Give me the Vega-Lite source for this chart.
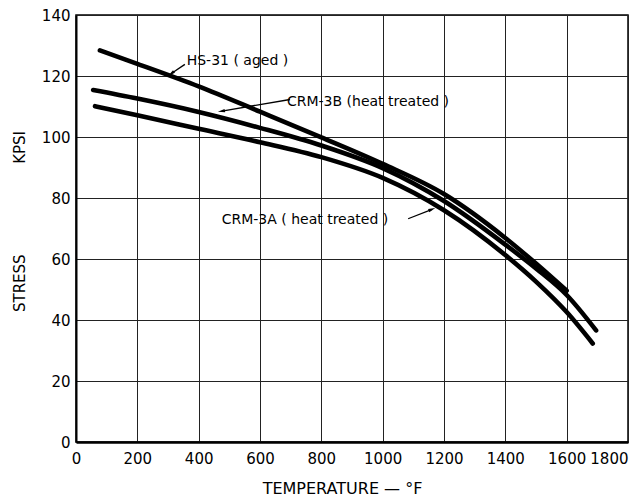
{
  "$schema": "https://vega.github.io/schema/vega-lite/v6.json",
  "width": 552,
  "height": 427,
  "autosize": {"type": "none"},
  "padding": {"left": 76, "top": 15, "right": 6, "bottom": 56},
  "background": "white",
  "config": {
    "font": "DejaVu Sans",
    "view": {"stroke": "black", "strokeWidth": 1.5}
  },
  "datasets": {
    "curves": [
      {"series": "HS-31", "temp": 78, "stress": 128.4},
      {"series": "HS-31", "temp": 200, "stress": 124},
      {"series": "HS-31", "temp": 400, "stress": 116.6},
      {"series": "HS-31", "temp": 600, "stress": 108.3},
      {"series": "HS-31", "temp": 800, "stress": 99.9},
      {"series": "HS-31", "temp": 1000, "stress": 91.2},
      {"series": "HS-31", "temp": 1200, "stress": 81.3},
      {"series": "HS-31", "temp": 1400, "stress": 66.9},
      {"series": "HS-31", "temp": 1500, "stress": 58.5},
      {"series": "HS-31", "temp": 1600, "stress": 49.6},
      {"series": "CRM-3B", "temp": 56, "stress": 115.4},
      {"series": "CRM-3B", "temp": 200, "stress": 112.6},
      {"series": "CRM-3B", "temp": 400, "stress": 108.2},
      {"series": "CRM-3B", "temp": 600, "stress": 103},
      {"series": "CRM-3B", "temp": 800, "stress": 97.2},
      {"series": "CRM-3B", "temp": 1000, "stress": 89.8},
      {"series": "CRM-3B", "temp": 1200, "stress": 79},
      {"series": "CRM-3B", "temp": 1400, "stress": 64.7},
      {"series": "CRM-3B", "temp": 1500, "stress": 56.9},
      {"series": "CRM-3B", "temp": 1600, "stress": 48.2},
      {"series": "CRM-3B", "temp": 1696, "stress": 36.6},
      {"series": "CRM-3A", "temp": 62, "stress": 110.1},
      {"series": "CRM-3A", "temp": 200, "stress": 107.1},
      {"series": "CRM-3A", "temp": 400, "stress": 102.7},
      {"series": "CRM-3A", "temp": 600, "stress": 98.3},
      {"series": "CRM-3A", "temp": 800, "stress": 93.4},
      {"series": "CRM-3A", "temp": 1000, "stress": 86.6},
      {"series": "CRM-3A", "temp": 1200, "stress": 76},
      {"series": "CRM-3A", "temp": 1400, "stress": 61.3},
      {"series": "CRM-3A", "temp": 1500, "stress": 52.6},
      {"series": "CRM-3A", "temp": 1600, "stress": 42.6},
      {"series": "CRM-3A", "temp": 1685, "stress": 32.3}
    ],
    "labels": [
      {"label": "HS-31 ( aged )", "temp": 361, "stress": 124.8},
      {"label": "CRM-3B (heat treated )", "temp": 688, "stress": 111.5},
      {"label": "CRM-3A ( heat treated )", "temp": 475, "stress": 72.7}
    ],
    "arrows": [
      {"name": "HS-31", "temp": 355, "stress": 123.8, "temp2": 312, "stress2": 120.9},
      {"name": "CRM-3B", "temp": 698, "stress": 112.3, "temp2": 476, "stress2": 108.5},
      {"name": "CRM-3A", "temp": 1083, "stress": 73.2, "temp2": 1159, "stress2": 76.2}
    ]
  },
  "layer": [
    {
      "data": {"name": "curves"},
      "mark": {"type": "line", "color": "black", "strokeWidth": 4.6, "interpolate": "monotone", "strokeCap": "round"},
      "encoding": {
        "x": {
          "field": "temp", "type": "quantitative",
          "scale": {"domain": [0, 1800], "nice": false, "zero": false},
          "axis": {
            "title": "TEMPERATURE — °F",
            "titleFontSize": 16, "titleFontWeight": "normal", "titleColor": "black", "titlePadding": 14,
            "titleX": 266,
            "values": [0, 200, 400, 600, 800, 1000, 1200, 1400, 1600, 1800],
            "format": "d",
            "labelFontSize": 15, "labelColor": "black", "labelPadding": 9,
            "labelAlign": {"expr": "datum.value == 1800 ? 'right' : 'center'"},
            "tickSize": 0, "ticks": false,
            "grid": true, "gridColor": "#222", "gridWidth": 1,
            "domainColor": "black", "domainWidth": 2.5
          }
        },
        "y": {
          "field": "stress", "type": "quantitative",
          "scale": {"domain": [0, 140], "nice": false, "zero": false},
          "axis": {
            "title": "STRESS\u00a0\u00a0\u00a0\u00a0\u00a0\u00a0\u00a0\u00a0\u00a0\u00a0\u00a0\u00a0\u00a0\u00a0\u00a0\u00a0\u00a0\u00a0\u00a0KPSI",
            "titleFontSize": 15, "titleFontWeight": "normal", "titleColor": "black", "titlePadding": 14,
            "titleY": 206,
            "values": [0, 20, 40, 60, 80, 100, 120, 140],
            "labelFontSize": 15, "labelColor": "black", "labelPadding": 6,
            "tickSize": 0, "ticks": false,
            "grid": true, "gridColor": "#222", "gridWidth": 1,
            "domainColor": "black", "domainWidth": 2
          }
        },
        "detail": {"field": "series", "type": "nominal"}
      }
    },
    {
      "data": {"name": "labels"},
      "mark": {"type": "text", "align": "left", "baseline": "middle", "fontSize": 14, "color": "black"},
      "encoding": {
        "x": {"field": "temp", "type": "quantitative"},
        "y": {"field": "stress", "type": "quantitative"},
        "text": {"field": "label", "type": "nominal"}
      }
    },
    {
      "data": {"name": "arrows"},
      "mark": {"type": "rule", "color": "black", "strokeWidth": 1.3},
      "encoding": {
        "x": {"field": "temp", "type": "quantitative"},
        "y": {"field": "stress", "type": "quantitative"},
        "x2": {"field": "temp2"},
        "y2": {"field": "stress2"}
      }
    },
    {
      "data": {"name": "arrows"},
      "transform": [{"filter": "datum.name == 'HS-31'"}],
      "mark": {"type": "point", "shape": "M0,-1L0.4,0.7L-0.4,0.7Z", "filled": true, "color": "black", "opacity": 1, "size": 70, "angle": 233},
      "encoding": {
        "x": {"field": "temp2", "type": "quantitative"},
        "y": {"field": "stress2", "type": "quantitative"}
      }
    },
    {
      "data": {"name": "arrows"},
      "transform": [{"filter": "datum.name == 'CRM-3B'"}],
      "mark": {"type": "point", "shape": "M0,-1L0.4,0.7L-0.4,0.7Z", "filled": true, "color": "black", "opacity": 1, "size": 70, "angle": 260},
      "encoding": {
        "x": {"field": "temp2", "type": "quantitative"},
        "y": {"field": "stress2", "type": "quantitative"}
      }
    },
    {
      "data": {"name": "arrows"},
      "transform": [{"filter": "datum.name == 'CRM-3A'"}],
      "mark": {"type": "point", "shape": "M0,-1L0.4,0.7L-0.4,0.7Z", "filled": true, "color": "black", "opacity": 1, "size": 70, "angle": 69},
      "encoding": {
        "x": {"field": "temp2", "type": "quantitative"},
        "y": {"field": "stress2", "type": "quantitative"}
      }
    }
  ]
}
